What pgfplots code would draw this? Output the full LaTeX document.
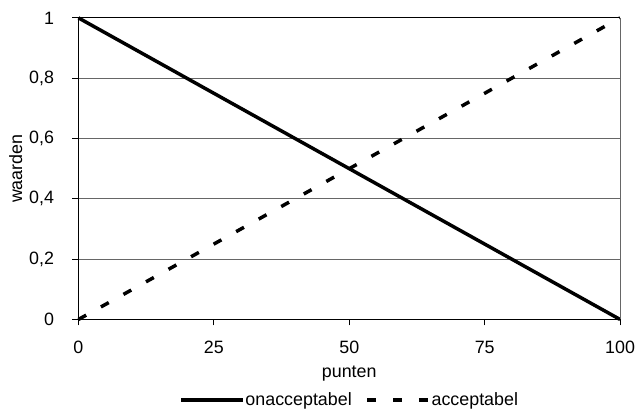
\documentclass[border=0pt]{standalone}
\usepackage{pgfplots}
\pgfplotsset{compat=1.18}
\usepackage{fontspec}
\setmainfont{Liberation Sans}
\begin{document}
\begin{tikzpicture}[font=\fontsize{18pt}{21pt}\selectfont]
\begin{axis}[
  scale only axis,
  width=546pt, height=304pt,
  xmin=0, xmax=100, ymin=0, ymax=1,
  axis lines=left,
  axis line style={black, line width=1.3pt, -},
  xtick={0,25,50,75,100},
  ytick={0,0.2,0.4,0.6,0.8,1},
  yticklabels={0,{0,2},{0,4},{0,6},{0,8},1},
  /pgf/number format/assume math mode=true,
  tick align=outside,
  major tick length=6pt,
  tick style={black, line width=1pt},
  ymajorgrids,
  grid style={gray!80!black, line width=1pt},
  ticklabel style={font=\fontsize{18pt}{21pt}\selectfont},
  label style={font=\fontsize{18pt}{21pt}\selectfont},
  yticklabel style={xshift=-15pt},
  xticklabel style={yshift=-12pt},
  xlabel={punten},
  ylabel={waarden},
  xlabel style={at={(axis description cs:0.5,-0.18)}, anchor=center},
  ylabel style={at={(axis description cs:-0.1154,0.5)}, anchor=center},
  legend columns=2,
  legend style={at={(axis description cs:0.5,-0.267)}, anchor=center, draw=none, fill=none,
    font=\fontsize{18pt}{21pt}\selectfont,
    nodes={inner sep=1pt},
    /tikz/every even column/.append style={column sep=13pt}, inner sep=0pt},
  legend image code/.code={\draw[#1] (0pt,0pt) -- (62pt,0pt);},
  clip=false,
]
\addplot[black, line width=3.5pt] coordinates {(0,1) (100,0)};
\addlegendentry{onacceptabel}
\addplot[black, line width=3.5pt, dash pattern=on 9pt off 17pt] coordinates {
(0,0) (10,0.1) (20,0.2) (30,0.3) (40,0.4) (50,0.5) (60,0.6) (70,0.7) (80,0.8) (90,0.9) (100,1)};
\addlegendentry{acceptabel}
\draw[gray!80!black, line width=1pt] (rel axis cs:1,0) -- (rel axis cs:1,1);
\draw[black, line width=1pt] (rel axis cs:0,1) -- (rel axis cs:1,1);
\coordinate (SW) at (rel axis cs:0,0);
\coordinate (NE) at (rel axis cs:1,1);
\end{axis}
\pgfresetboundingbox
\path[use as bounding box] ([shift={(-79pt,-90pt)}]SW) rectangle ([shift={(17pt,18pt)}]NE);
\end{tikzpicture}
\end{document}
